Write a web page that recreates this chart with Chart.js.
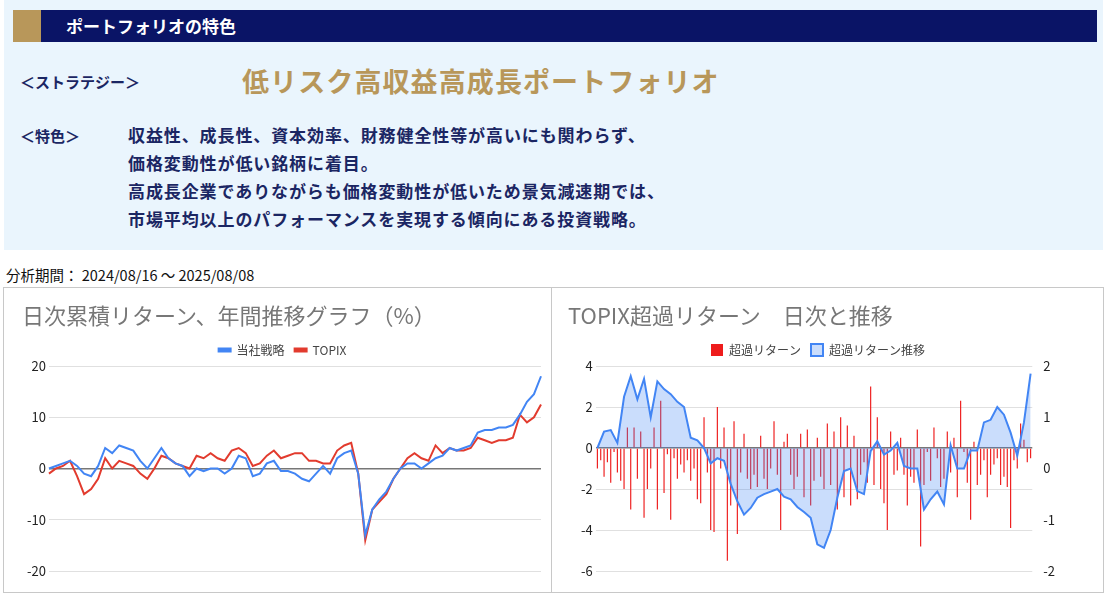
<!DOCTYPE html>
<html><head><meta charset="utf-8">
<script src="https://cdn.jsdelivr.net/npm/chart.js@4"></script>
<style>
body{margin:0;width:1107px;height:598px;background:#fff;font-family:"Noto Sans CJK JP","Noto Sans",sans-serif;position:relative;overflow:hidden}
.panel{position:absolute;left:4px;top:0;width:1099px;height:250px;background:#eaf5fd}
.head{position:absolute;left:13px;top:10px;width:1084px;height:32px;background:#0a1466}
.head .gold{position:absolute;left:0;top:0;width:28px;height:32px;background:#b8975a}
.head span{position:absolute;left:53px;top:3px;color:#fff;font-size:17px;font-weight:bold}
.lbl{position:absolute;color:#1b2663;font-size:15px;font-weight:bold}
.big{position:absolute;left:242px;top:61px;color:#b8975a;font-size:27px;font-weight:bold;letter-spacing:1.1px}
.body{position:absolute;left:128px;top:121px;color:#1b2663;font-size:17px;line-height:28px;font-weight:bold;letter-spacing:0.9px}
.period{position:absolute;left:6px;top:264px;font-size:14.5px;color:#111}
.box{position:absolute;top:287px;height:306px;border:1px solid #c8c8c8;box-sizing:border-box}
.title{position:absolute;left:18px;top:10px;font-size:22px;color:#777}
canvas{position:absolute;left:0;top:0}
</style></head><body>
<div class="panel"></div>
<div class="head"><div class="gold"></div><span>ポートフォリオの特色</span></div>
<div class="lbl" style="left:20px;top:71px">＜ストラテジー＞</div>
<div class="big">低リスク高収益高成長ポートフォリオ</div>
<div class="lbl" style="left:20px;top:125px">＜特色＞</div>
<div class="body">収益性、成長性、資本効率、財務健全性等が高いにも関わらず、<br>価格変動性が低い銘柄に着目。<br>高成長企業でありながらも価格変動性が低いため景気減速期では、<br>市場平均以上のパフォーマンスを実現する傾向にある投資戦略。</div>
<div class="period">分析期間： 2024/08/16 ～ 2025/08/08</div>
<div class="box" style="left:3px;width:549px"><canvas id="c1" width="547" height="304"></canvas><div class="title">日次累積リターン、年間推移グラフ（%）</div></div>
<div class="box" style="left:551px;width:553px"><canvas id="c2" width="551" height="304"></canvas><div class="title" style="left:16px">TOPIX超過リターン　日次と推移</div></div>
<script>
const strategy = [0,0.5,1,1.5,0.5,-1,-1.5,0.5,4,3,4.5,4,3.5,1.5,0,2,4,2,1,0.5,-1.5,0,-0.5,0,0,-1,0,2.5,2,-1.5,-1,1,1.5,-0.5,-0.5,-1,-2,-2.5,-1,0.5,-1,2,3,3.5,-1,-13,-8,-6,-4.5,-2,0,1,1,0,1,2,2.5,4,3.5,4,4.5,7,7.5,7.5,8,8,8.5,10.5,13,14.5,18];
const topix = [-1,0,0.5,1.5,-1.5,-5,-4,-2,2,0,1.5,1,0.5,-1,-2,0,2.5,2,1,0.5,0,2.5,2,3,2,1.5,3.5,4,3,0.5,1,2.5,3.5,2,2.5,3,3,1.5,1.5,1,1,3.5,4.5,5,-1,-14,-8,-6.5,-5,-2,0,2,3,2,1.5,4.5,3,4,3.5,3.5,4,6,5.5,5,5.5,5.5,6,10.5,9,10,12.5];
const excessDaily = [-1,-0.6,-1.4,-0.7,-1.7,-0.2,-1.2,-1.6,-2,1,
-3,1,-1.5,0.8,-3.4,-2,-1,1,-3,2.3,
-2.2,-0.3,-3.5,-0.5,-1.5,-0.8,-1.2,-0.6,-1.6,-1,
-2.5,-2.7,1.5,-1.2,-4,-4.1,2,-1,1,-5.5,
-2.8,1.3,-4.2,-1.2,0.7,-1.5,-2,-1.3,-1.9,0.6,
-1.5,-2,-1,1.3,-1.3,-4,0.3,0.7,-1.3,-2,
-1.4,0.7,-2.4,0.9,-2.8,-1.6,0.5,-1.4,-2,1.2,
-1.8,0.8,-3,1.5,-2.4,1.1,-2.8,0.6,-2.5,-1.3,
-0.7,-1.7,3,-1.8,1.5,-2,-2.7,-4,0.8,-1.3,
-1.1,0.5,-1.3,-2.8,-1.4,-1.7,0.9,-4.8,-1.8,-0.2,
-1.6,1,-0.5,-1.9,-1.5,0.8,-1.2,0.5,-2.4,2.3,
-0.2,-1.7,-3.5,0.3,-1.8,-1.3,-0.6,-2.4,-1.3,-0.8,
-0.5,-1.8,-1.4,-1.9,-3.9,-0.6,-1,1.2,0.4,-0.7,-0.5];
const excessTrend = [0.4,0.72,0.75,0.5,1.4,1.8,1.35,1.75,1.0,1.7,1.55,1.45,1.3,1.2,0.6,0.55,0.4,0.1,0.2,0.15,-0.3,-0.64,-0.9,-0.77,-0.57,-0.5,-0.45,-0.4,-0.55,-0.6,-0.75,-0.85,-0.96,-1.48,-1.55,-1.2,-0.57,-0.05,0.0,-0.44,-0.5,0.34,0.53,0.27,0.35,0.5,0.05,0.0,0.0,-0.8,-0.6,-0.45,-0.7,0.45,0.0,0.0,0.35,0.35,0.9,0.95,1.2,1.05,0.7,0.25,0.9,1.85];

Chart.defaults.font.family = "'Noto Sans CJK JP', sans-serif";
Chart.defaults.animation = false;
Chart.defaults.responsive = false;

const labels1 = strategy.map((v, i) => i);
new Chart(document.getElementById("c1"), {
    type: 'line',
    data: {
        labels: labels1,
        datasets: [
            {label: '当社戦略', data: strategy, borderColor: '#4285f4', backgroundColor: '#4285f4', borderWidth: 2, pointRadius: 0, tension: 0},
            {label: 'TOPIX', data: topix, borderColor: '#e23b2e', backgroundColor: '#e23b2e', borderWidth: 2, pointRadius: 0, tension: 0}
        ]
    },
    options: {
        layout: {padding: {top: 46, right: 10, left: 20, bottom: 21}},
        scales: {
            x: {display: false},
            y: {min: -20, max: 20, ticks: {stepSize: 10, color: '#222', font: {size: 13}},
                grid: {color: c => c.tick.value === 0 ? '#777' : '#e0e0e0', lineWidth: c => c.tick.value === 0 ? 1.5 : 1, drawTicks: false},
                border: {display: false}}
        },
        plugins: {
            legend: {labels: {boxWidth: 12, boxHeight: 3, color: '#444', font: {size: 12}}}
        }
    }
});

const labels2 = excessDaily.map((v, i) => i);
const trend = labels2.map(i => i % 2 === 0 ? excessTrend[i / 2] ?? null : null);
new Chart(document.getElementById("c2"), {
    data: {
        labels: labels2,
        datasets: [
            {type: 'line', label: '超過リターン推移', data: trend, yAxisID: 'y2', spanGaps: true,
             borderColor: '#4285f4', backgroundColor: 'rgba(66,133,244,0.28)', borderWidth: 2, pointRadius: 0,
             fill: {value: 0.4}, order: 0},
            {type: 'bar', label: '超過リターン', data: excessDaily, yAxisID: 'y',
             backgroundColor: '#ee1c1c', barPercentage: 0.35, categoryPercentage: 1, order: 1}
        ]
    },
    options: {
        layout: {padding: {top: 46, right: 45, left: 26, bottom: 21}},
        scales: {
            x: {display: false},
            y: {position: 'left', min: -6, max: 4, ticks: {stepSize: 2, color: '#222', font: {size: 13}},
                grid: {color: c => c.tick.value === 0 ? '#777' : '#e0e0e0', lineWidth: c => c.tick.value === 0 ? 1.5 : 1, drawTicks: false},
                border: {display: false}},
            y2: {position: 'right', min: -2, max: 2, ticks: {stepSize: 1, color: '#222', font: {size: 13}},
                grid: {display: false}, border: {display: false}}
        },
        plugins: {
            legend: {reverse: true, labels: {boxWidth: 12, boxHeight: 12, color: '#444', font: {size: 12}}}
        }
    }
});
</script>
</body></html>
